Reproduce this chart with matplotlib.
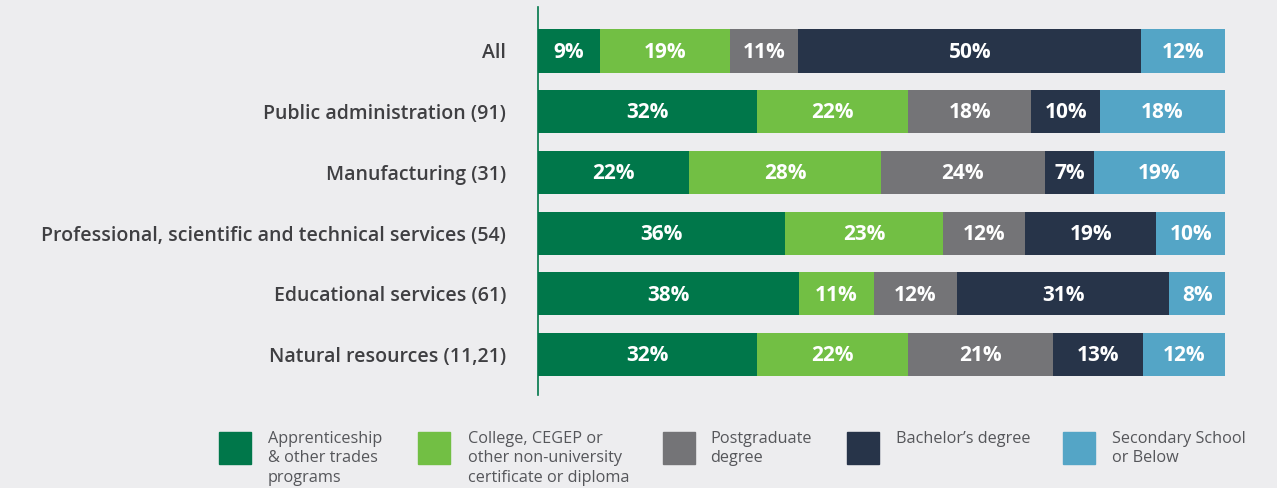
import matplotlib
matplotlib.use("Agg")
import matplotlib.pyplot as plt
from matplotlib.patches import Rectangle

categories = ["All", "Public administration (91)", "Manufacturing (31)",
              "Professional, scientific and technical services (54)",
              "Educational services (61)", "Natural resources (11,21)"]
series_names = ["Apprenticeship\n& other trades\nprograms",
                "College, CEGEP or\nother non-university\ncertificate or diploma",
                "Postgraduate\ndegree", "Bachelor\u2019s degree",
                "Secondary School\nor Below"]
apprenticeship = [9.0, 31.9, 22.0, 36.0, 38.0, 31.9]
college = [18.9, 22.0, 27.9, 23.0, 10.9, 22.0]
postgraduate = [10.0, 17.9, 23.9, 11.9, 12.1, 21.0]
bachelor = [49.9, 10.0, 7.1, 19.1, 30.9, 13.1]
secondary = [12.2, 18.2, 19.1, 10.0, 8.1, 12.0]
labels_appr = ["9%", "32%", "22%", "36%", "38%", "32%"]
labels_coll = ["19%", "22%", "28%", "23%", "11%", "22%"]
labels_post = ["11%", "18%", "24%", "12%", "12%", "21%"]
labels_bach = ["50%", "10%", "7%", "19%", "31%", "13%"]
labels_seco = ["12%", "18%", "19%", "10%", "8%", "12%"]

colors = ["#00774A", "#72BF44", "#747477", "#273449", "#54A5C6"]
bg = "#EDEDEF"

series = [apprenticeship, college, postgraduate, bachelor, secondary]
labels = [labels_appr, labels_coll, labels_post, labels_bach, labels_seco]

W, H = 1277, 488
fig = plt.figure(figsize=(W / 100, H / 100), dpi=100, facecolor=bg)
ax = fig.add_axes([538 / W, 1 - 395 / H, (1225 - 538) / W, (395 - 7) / H])
ax.set_facecolor(bg)

pitch = 60.7
y = list(range(len(categories)))
left = [0.0] * len(categories)
for vals, labs, col in zip(series, labels, colors):
    ax.barh(y, vals, left=left, height=0.71, color=col, edgecolor="none")
    for i, (v, l, lb) in enumerate(zip(vals, left, labs)):
        ax.text(l + v / 2, i + 0.02, lb, ha="center", va="center", color="white",
                fontsize=15, fontweight="bold", family="Open Sans")
    left = [a + b for a, b in zip(left, vals)]

ax.set_xlim(0, 100)
ax.set_ylim(5 + (395 - 354.5) / pitch, -(51 - 7) / pitch)
ax.set_yticks(y)
ax.set_yticklabels(categories, fontsize=14, fontweight="semibold",
                   family="Open Sans", color="#3f3f42")
ax.tick_params(axis="y", length=0, pad=23)
ax.set_xticks([])
for s in ["top", "right", "bottom"]:
    ax.spines[s].set_visible(False)
ax.spines["left"].set_color("#00774A")
ax.spines["left"].set_linewidth(1.2)

# legend
sq = [219, 418, 663, 847, 1063]
tx = [268, 468, 710, 896, 1112]
for x0, t, name, col in zip(sq, tx, series_names, colors):
    fig.patches.append(Rectangle((x0 / W, 1 - 464 / H), 32 / W, 32 / H,
                                 transform=fig.transFigure, color=col))
    fig.text(t / W, 1 - 431 / H, name, ha="left", va="top", fontsize=11.7,
             family="Open Sans", color="#55565a", linespacing=1.28)

fig.savefig("out.png", dpi=100, facecolor=bg)
